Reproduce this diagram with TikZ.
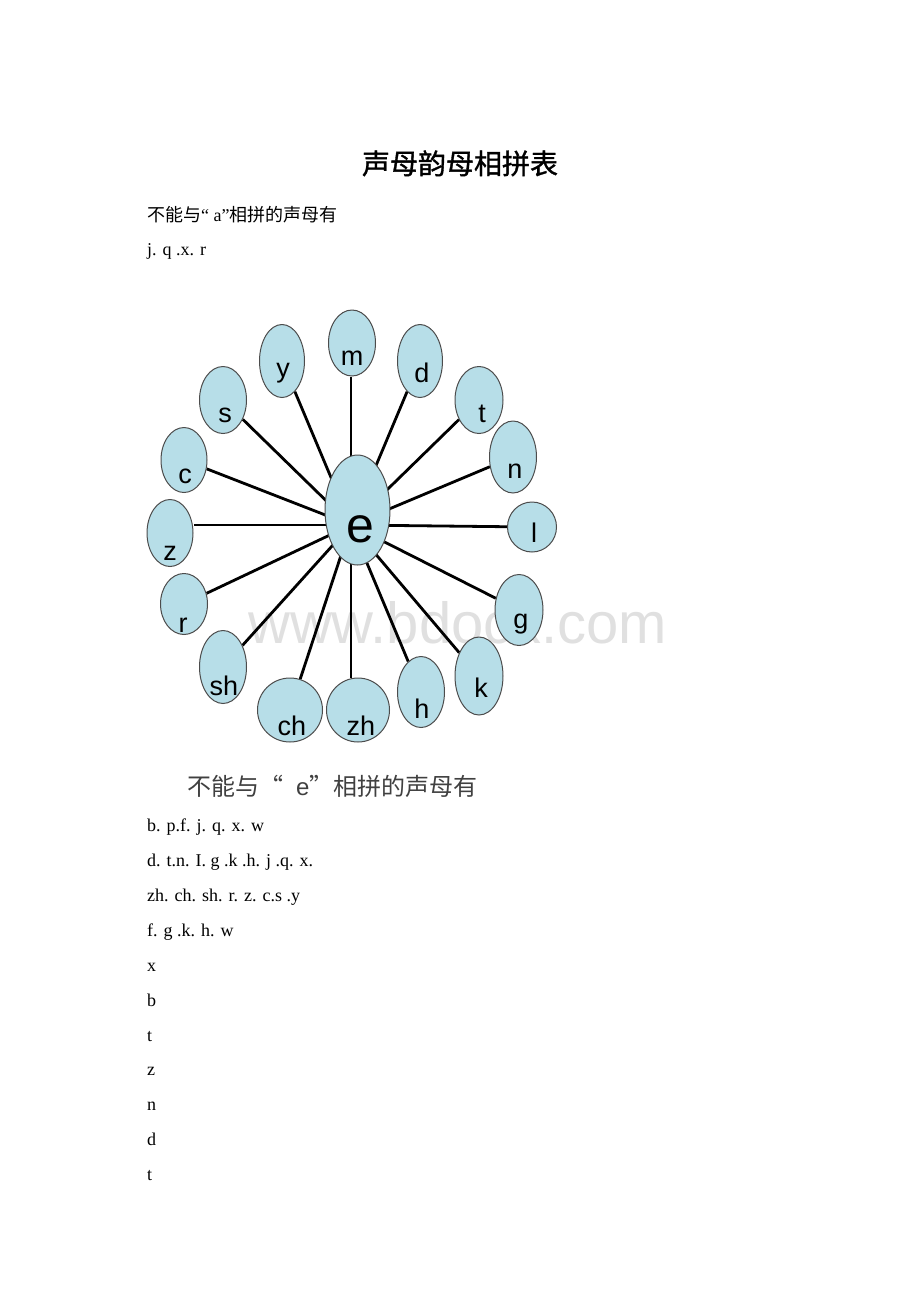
\documentclass[tikz,border=0pt]{standalone}
\usepackage{fontspec}
\setmainfont{Liberation Serif}
\newfontfamily\cjk{Noto Sans CJK SC}
\newfontfamily\cjktitle[FakeBold=1.2]{Noto Sans CJK SC}
\newfontfamily\arial{Liberation Sans}
\usetikzlibrary{shapes.geometric,backgrounds}
\definecolor{bubble}{RGB}{183,222,232}

\begin{document}
\begin{tikzpicture}[x=1pt,y=-1pt,
  leaf/.style={ellipse,draw=black!70,line width=1pt,fill=bubble,inner sep=0pt},
  letter/.style={anchor=base,inner sep=0pt,font=\arial\fontsize{27}{27}\selectfont},
  spoke/.style={line width=2.8pt},
  body/.style={anchor=base west,inner sep=0pt,font=\fontsize{18}{18}\selectfont}]
\useasboundingbox (0,0) rectangle (920,1302);

% title and the "a" list
\node[anchor=base,inner sep=0pt,font=\cjktitle\fontsize{28}{28}\selectfont] (title) at (460,174) {声母韵母相拼表};
\node[body] (heada) at (147,221) {{\cjk 不能与}“ a”{\cjk 相拼的声母有}};
\node[body] (lista) at (147,255) {j. q .x. r};

% the wheel
\coordinate (hub) at (351,525);
\node[leaf,minimum width=65,minimum height=110] (e) at (357.5,510) {};
\node[leaf,minimum width=47,minimum height=66] (m) at (352,343) {};
\node[leaf,minimum width=45,minimum height=73] (y) at (282,361) {};
\node[leaf,minimum width=45,minimum height=73] (d) at (420,361) {};
\node[leaf,minimum width=47,minimum height=67] (s) at (223,400) {};
\node[leaf,minimum width=48,minimum height=67] (t) at (479,400) {};
\node[leaf,minimum width=46,minimum height=65] (c) at (184,460) {};
\node[leaf,minimum width=47,minimum height=72] (n) at (513,457) {};
\node[leaf,minimum width=46,minimum height=67] (z) at (170,533) {};
\node[leaf,minimum width=49,minimum height=50] (l) at (532,527) {};
\node[leaf,minimum width=47,minimum height=61] (r) at (184,604) {};
\node[leaf,minimum width=48,minimum height=71] (g) at (519,610) {};
\node[leaf,minimum width=47,minimum height=73] (sh) at (223,667) {};
\node[leaf,minimum width=48,minimum height=78] (k) at (479,676) {};
\node[leaf,minimum width=47,minimum height=71] (h) at (421,692) {};
\node[leaf,minimum width=65,minimum height=64] (ch) at (290,710) {};
\node[leaf,minimum width=63,minimum height=64] (zh) at (358,710) {};

\node[letter,font=\arial\fontsize{50}{50}\selectfont] (e-txt) at (360,542) {e};
\node[letter] (m-txt) at (352,365) {m};
\node[letter] (y-txt) at (283,377) {y};
\node[letter] (d-txt) at (422,382) {d};
\node[letter] (s-txt) at (225,422) {s};
\node[letter] (t-txt) at (482,422) {t};
\node[letter] (c-txt) at (185,483) {c};
\node[letter] (n-txt) at (515,478) {n};
\node[letter] (z-txt) at (170,560) {z};
\node[letter] (l-txt) at (534,542) {l};
\node[letter] (r-txt) at (183,632) {r};
\node[letter] (g-txt) at (521,628) {g};
\node[letter] (sh-txt) at (224,695) {sh};
\node[letter] (k-txt) at (481,697) {k};
\node[letter] (h-txt) at (422,718) {h};
\node[letter] (ch-txt) at (292,735) {ch};
\node[letter] (zh-txt) at (361,735) {zh};

\begin{scope}[on background layer]
\node[anchor=base west,inner sep=0pt,text=black!12,font=\arial\fontsize{58}{58}\selectfont] (mark) at (248,643) {www.bdocx.com};
\draw[spoke] (hub) -- (hub |- m.south);
\draw[spoke] (hub) -- (y);
\draw[spoke] (hub) -- (d);
\draw[spoke] (hub) -- (s);
\draw[spoke] (hub) -- (t);
\draw[spoke] (hub) -- (c);
\draw[spoke] (hub) -- (n);
\draw[spoke] (hub) -- (hub -| z.east);
\draw[spoke] (hub) -- (l);
\draw[spoke] (hub) -- (r);
\draw[spoke] (hub) -- (g);
\draw[spoke] (hub) -- (sh);
\draw[spoke] (hub) -- (k);
\draw[spoke] (hub) -- (h);
\draw[spoke] (hub) -- (ch);
\draw[spoke] (hub) -- (hub |- zh.north);
\end{scope}

% the "e" list
\node[anchor=base west,inner sep=0pt,text=black!75,font=\cjk\fontsize{24}{24}\selectfont] (heade) at (187,795)
  {不能与\makebox[24pt][c]{“}\hspace{13pt}{\arial e}\makebox[24pt][c]{”}相拼的声母有};
\node[body] (list1) at (147,831) {b. p.f. j. q. x. w};
\node[body] (list2) at (147,866) {d. t.n. I. g .k .h. j .q. x.};
\node[body] (list3) at (147,901) {zh. ch. sh. r. z. c.s .y};
\node[body] (list4) at (147,936) {f. g .k. h. w};
\node[body] (list5) at (147,971) {x};
\node[body] (list6) at (147,1006) {b};
\node[body] (list7) at (147,1041) {t};
\node[body] (list8) at (147,1075) {z};
\node[body] (list9) at (147,1110) {n};
\node[body] (list10) at (147,1145) {d};
\node[body] (list11) at (147,1180) {t};
\end{tikzpicture}
\end{document}
